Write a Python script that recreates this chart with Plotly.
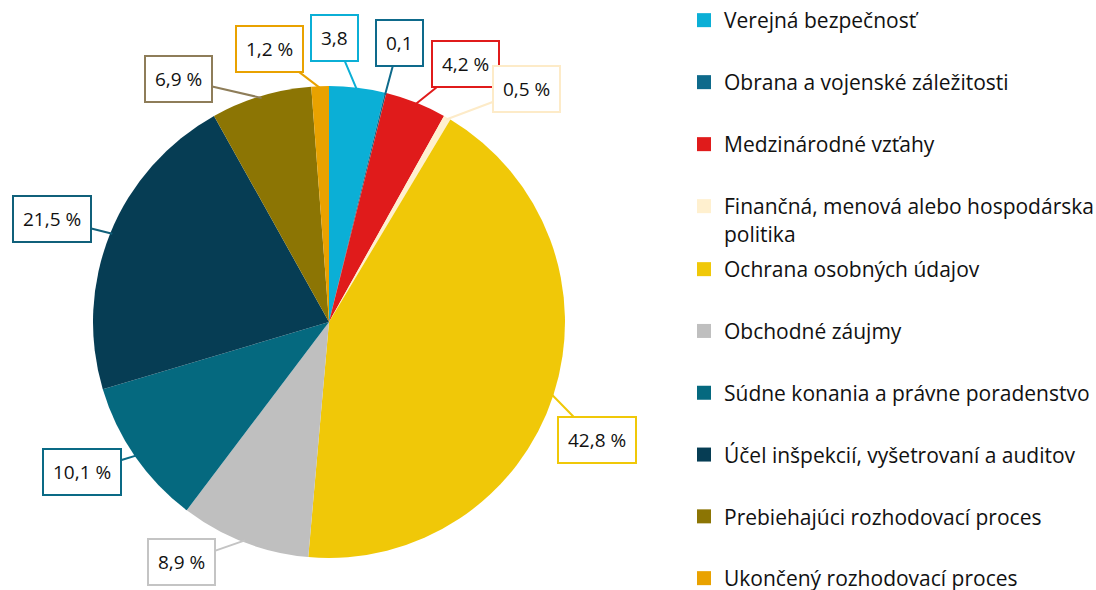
import math
import plotly.graph_objects as go

# data
kategorie = [
    "Verejná bezpečnosť",
    "Obrana a vojenské záležitosti",
    "Medzinárodné vzťahy",
    "Finančná, menová alebo hospodárska politika",
    "Ochrana osobných údajov",
    "Obchodné záujmy",
    "Súdne konania a právne poradenstvo",
    "Účel inšpekcií, vyšetrovaní a auditov",
    "Prebiehajúci rozhodovací proces",
    "Ukončený rozhodovací proces",
]
podiel = [3.8, 0.1, 4.2, 0.5, 42.8, 8.9, 10.1, 21.5, 6.9, 1.2]
popisky = ["3,8", "0,1", "4,2 %", "0,5 %", "42,8 %", "8,9 %", "10,1 %", "21,5 %", "6,9 %", "1,2 %"]
legenda = [
    "Verejná bezpečnosť",
    "Obrana a vojenské záležitosti",
    "Medzinárodné vzťahy",
    "Finančná, menová alebo hospodárska<br>politika",
    "Ochrana osobných údajov",
    "Obchodné záujmy",
    "Súdne konania a právne poradenstvo",
    "Účel inšpekcií, vyšetrovaní a auditov",
    "Prebiehajúci rozhodovací proces",
    "Ukončený rozhodovací proces",
]

farby = ["#0BAFD6", "#0E6A8B", "#E01B1B", "#FFF0CF", "#F0C808",
         "#BFBFBF", "#05697F", "#063D54", "#8C7504", "#E9A200"]
okraje = ["#0BAFD6", "#0E6A8B", "#E01B1B", "#FDEBC8", "#F0C808",
          "#C4C4C4", "#0A6A85", "#10607A", "#8E7D59", "#E9A200"]
# box offsets from the slice edge, in pixels
posuny = [(-22, -52), (14, -52), (50, -40), (80, -30), (45, 46),
          (-63, 22), (-55, 17), (-60, -15), (-83, -19), (-51, -39)]

W, H = 1096, 590
CX, CY = 329, 322
R_DOM, R = 236, 234
FONT = "'Open Sans', sans-serif"

fig = go.Figure()
fig.add_trace(go.Pie(
    labels=kategorie, values=podiel, sort=False, direction="clockwise",
    rotation=0, marker=dict(colors=farby, line=dict(width=0)),
    textinfo="none", hoverinfo="label+percent", showlegend=False,
    domain=dict(x=[(CX - R_DOM) / W, (CX + R_DOM) / W],
                y=[(H - CY - R_DOM) / H, (H - CY + R_DOM) / H]),
))

# legend entries as dummy traces, split in two legends so the
# two-line entry doesn't push the rest down
for i, (nazov, farba) in enumerate(zip(legenda, farby)):
    fig.add_trace(go.Scatter(
        x=[None], y=[None], mode="markers", name=nazov,
        legendgroup=str(i), legend="legend" if i < 4 else "legend2",
        marker=dict(symbol="square", size=14, color=farba),
    ))

# callout labels
total = sum(podiel)
kum = 0
for hodnota, text, okraj, (ax, ay) in zip(podiel, popisky, okraje, posuny):
    uhol = (kum + hodnota / 2) / total * 2 * math.pi
    kum += hodnota
    px_ = CX + R * math.sin(uhol)
    py_ = CY - R * math.cos(uhol)
    fig.add_annotation(
        x=px_ / W, y=1 - py_ / H, xref="paper", yref="paper",
        text=text, showarrow=True, ax=ax, ay=ay,
        arrowhead=0, arrowwidth=2, arrowcolor=okraj, standoff=0,
        bordercolor=okraj, borderwidth=2, borderpad=9, bgcolor="white",
        font=dict(family=FONT, size=19, color="#111111"),
    )

leg_style = dict(
    xanchor="left", yanchor="top", traceorder="grouped", valign="top",
    font=dict(family=FONT, size=21, color="#111111"),
    bgcolor="rgba(0,0,0,0)",
)
fig.update_layout(
    width=W, height=H,
    margin=dict(l=0, r=0, t=0, b=0, autoexpand=False),
    paper_bgcolor="white", plot_bgcolor="white",
    xaxis=dict(visible=False), yaxis=dict(visible=False),
    legend=dict(x=684 / W, y=1, tracegroupgap=31.7, **leg_style),
    legend2=dict(x=684 / W, y=1 - 249 / H, tracegroupgap=31.5, **leg_style),
)

fig.write_html("out.html", config={"displayModeBar": False},
               post_script="document.body.style.margin='0';")
